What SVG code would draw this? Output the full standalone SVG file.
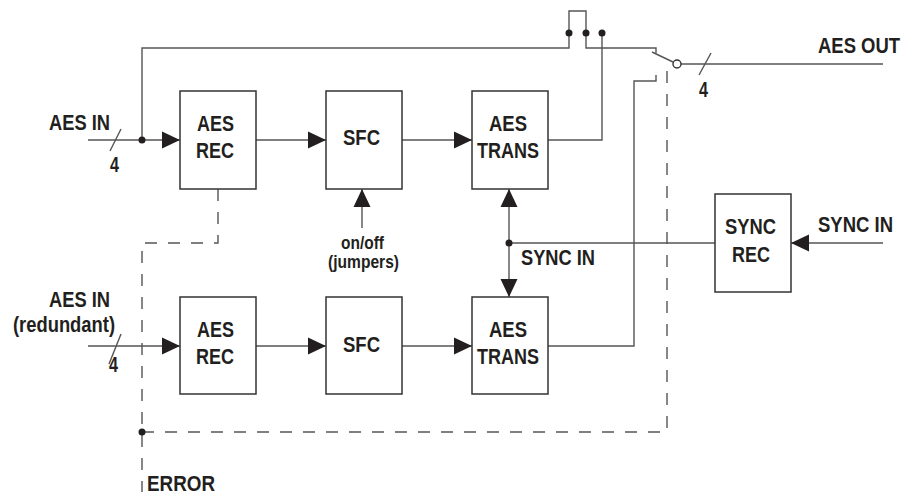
<svg xmlns="http://www.w3.org/2000/svg" width="913" height="498" viewBox="0 0 913 498">
<style>
.box{fill:#fff;stroke:#333;stroke-width:1.5}
.ln{fill:none;stroke:#555;stroke-width:1.4}
.ar{fill:none;stroke:#555;stroke-width:1.4;marker-end:url(#arr)}
.dash{fill:none;stroke:#555;stroke-width:1.4;stroke-dasharray:12 11}
.dot{fill:#231f20}
text{font-family:"Liberation Sans",Arial,sans-serif;font-weight:bold;font-size:22px;fill:#231f20}
.c{text-anchor:middle}
.s{font-size:17.5px}
</style>
<defs>
<marker id="arr" markerUnits="userSpaceOnUse" markerWidth="18" markerHeight="18" refX="18" refY="8.5" orient="auto-start-reverse" viewBox="0 0 18 17">
<path d="M0,0 L18,8.5 L0,17 Z" fill="#231f20"/>
</marker>
</defs>
<g id="connectors">
<path class="ar" d="M88,140 H180"/>
<path class="ln" d="M110,151 L121,129"/>
<path class="ln" d="M142,140 V48 H569 V33"/>
<path class="ln" d="M569,33 V11 H586 V33"/>
<path class="ln" d="M586,33 V48 H656 V53"/>
<path class="ln" d="M652,52 L673,62"/>
<path class="ln" d="M681,64 H883"/>
<path class="ln" d="M699,75 L711,53"/>
<path class="ar" d="M256,140 H326"/>
<path class="ar" d="M402,140 H472"/>
<path class="ln" d="M548,140 H602 V33"/>
<path class="ar" d="M88,346 H180"/>
<path class="ln" d="M109,364 L121,334"/>
<path class="ar" d="M256,346 H326"/>
<path class="ar" d="M402,346 H472"/>
<path class="ln" d="M548,346 H634 V81 H656 V75"/>
<path class="ar" d="M362,228 V189"/>
<path class="ar" d="M883,243 H791"/>
<path class="ln" d="M715,243 H509"/>
<path class="ar" style="marker-start:url(#arr)" d="M509,189 V297"/>
<path class="dash" d="M218,189 V243 H142 V492"/>
<path class="dash" d="M142,432 H667 V60"/>
<circle class="dot" cx="142" cy="140" r="3.5"/>
<circle class="dot" cx="569" cy="33" r="3.5"/>
<circle class="dot" cx="586" cy="33" r="3.5"/>
<circle class="dot" cx="602" cy="33" r="3.5"/>
<circle class="dot" cx="509" cy="243" r="3.5"/>
<circle class="dot" cx="142" cy="432" r="3.5"/>
<circle cx="677" cy="64" r="4" fill="#fff" stroke="#333" stroke-width="1.4"/>
</g>
<g id="labels">
<text x="49" y="130" textLength="61" lengthAdjust="spacingAndGlyphs">AES IN</text>
<text x="110" y="172" textLength="9" lengthAdjust="spacingAndGlyphs">4</text>
<text x="818" y="53" textLength="82" lengthAdjust="spacingAndGlyphs">AES OUT</text>
<text x="699" y="97" textLength="9" lengthAdjust="spacingAndGlyphs">4</text>
<text class="s" x="341" y="249" textLength="43" lengthAdjust="spacingAndGlyphs">on/off</text>
<text class="s" x="328" y="268" textLength="71" lengthAdjust="spacingAndGlyphs">(jumpers)</text>
<text x="521" y="265" textLength="74" lengthAdjust="spacingAndGlyphs">SYNC IN</text>
<text x="818" y="232" textLength="75" lengthAdjust="spacingAndGlyphs">SYNC IN</text>
<text x="49" y="307" textLength="61" lengthAdjust="spacingAndGlyphs">AES IN</text>
<text x="13" y="332" textLength="102" lengthAdjust="spacingAndGlyphs">(redundant)</text>
<text x="109" y="372" textLength="9" lengthAdjust="spacingAndGlyphs">4</text>
<text x="147" y="491" textLength="68" lengthAdjust="spacingAndGlyphs">ERROR</text>
</g>
<g id="aes-rec-1">
<rect class="box" x="180" y="91" width="76" height="98"/>
<text class="c" x="215.5" y="131" textLength="37" lengthAdjust="spacingAndGlyphs">AES</text>
<text class="c" x="215" y="158" textLength="38" lengthAdjust="spacingAndGlyphs">REC</text>
</g>
<g id="sfc-1">
<rect class="box" x="326" y="91" width="76" height="98"/>
<text class="c" x="361.5" y="145" textLength="37" lengthAdjust="spacingAndGlyphs">SFC</text>
</g>
<g id="aes-trans-1">
<rect class="box" x="472" y="91" width="76" height="98"/>
<text class="c" x="508" y="131" textLength="38" lengthAdjust="spacingAndGlyphs">AES</text>
<text class="c" x="508" y="158" textLength="62" lengthAdjust="spacingAndGlyphs">TRANS</text>
</g>
<g id="aes-rec-2">
<rect class="box" x="180" y="297" width="76" height="97"/>
<text class="c" x="215.5" y="337" textLength="37" lengthAdjust="spacingAndGlyphs">AES</text>
<text class="c" x="215" y="364" textLength="38" lengthAdjust="spacingAndGlyphs">REC</text>
</g>
<g id="sfc-2">
<rect class="box" x="326" y="297" width="76" height="97"/>
<text class="c" x="361.5" y="352" textLength="37" lengthAdjust="spacingAndGlyphs">SFC</text>
</g>
<g id="aes-trans-2">
<rect class="box" x="472" y="297" width="76" height="97"/>
<text class="c" x="508" y="337" textLength="38" lengthAdjust="spacingAndGlyphs">AES</text>
<text class="c" x="508" y="364" textLength="62" lengthAdjust="spacingAndGlyphs">TRANS</text>
</g>
<g id="sync-rec">
<rect class="box" x="715" y="194" width="76" height="98"/>
<text class="c" x="750.5" y="234" textLength="51" lengthAdjust="spacingAndGlyphs">SYNC</text>
<text class="c" x="751" y="262" textLength="38" lengthAdjust="spacingAndGlyphs">REC</text>
</g>
</svg>
